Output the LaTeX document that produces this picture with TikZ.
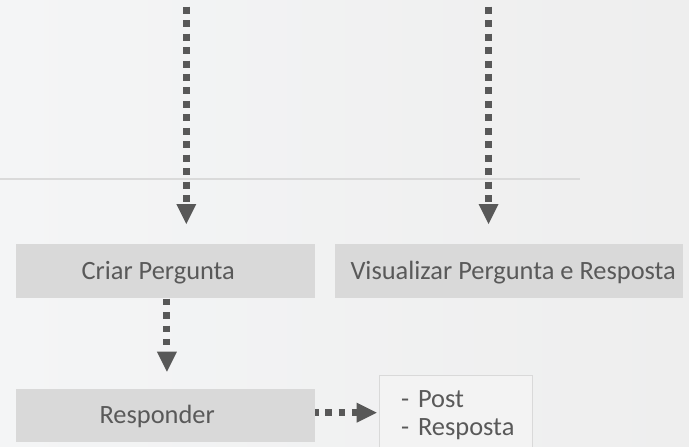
\documentclass[tikz,border=0pt]{standalone}
\usepackage{fontspec}
\setmainfont{Carlito}
\usetikzlibrary{arrows.meta}
\definecolor{bgL}{HTML}{F4F5F6}
\definecolor{bgR}{HTML}{EEEEEE}
\definecolor{boxc}{HTML}{D9D9D9}
\definecolor{txt}{HTML}{595959}
\definecolor{arr}{HTML}{585858}
\definecolor{sepc}{HTML}{DADADA}
\definecolor{postfill}{HTML}{F3F3F3}
\begin{document}
\begin{tikzpicture}[x=1pt,y=-1pt,
  box/.style={fill=boxc, inner sep=0pt, anchor=north west, text=txt,
    font=\fontsize{26.4}{28.3}\selectfont, text height=16.7pt, text depth=0pt},
  postbox/.style={fill=postfill, draw=boxc, line width=1pt, anchor=north west,
    inner xsep=21.5pt, inner ysep=15pt, text width=109.5pt, align=left,
    text=txt, font=\fontsize{26.4}{28.3}\selectfont},
  flow/.style={draw=arr, line width=7pt, dash pattern=on 7pt off 6.45pt,
    -{Triangle[width=20pt,length=20pt,line width=0pt]}},
  sepline/.style={draw=sepc, line width=1.5pt}
]
\useasboundingbox (0,0) rectangle (689,447);
\shade[left color=bgL, right color=bgR] (0,0) rectangle (689,447);
\draw[sepline] (0,179) -- (580,179);

\node[box, minimum width=299pt, minimum height=53.7pt] (criar) at (16,244) {Criar Pergunta\kern15pt};
\node[box, minimum width=348pt, minimum height=54pt] (vis) at (335,244) {\kern8pt Visualizar Pergunta e Resposta};
\node[box, minimum width=299pt, minimum height=53.4pt] (resp) at (16,388.3) {Responder\kern17pt};
\node[postbox, minimum width=152.5pt] (post) at (379.2,375) {\mbox{- Post}\\\mbox{- Resposta}};

\coordinate (t1) at (186.3,-6.75);
\coordinate (t2) at (488.6,-6.75);
\draw[flow, shorten >=20pt] (t1) -- (t1 |- criar.north);
\draw[flow, shorten >=20pt] (t2) -- (t2 |- vis.north);
\draw[flow, dash pattern=on 6.5pt off 6.9pt, dash phase=12.8pt, shorten >=16.6pt]
  ([xshift=1.2pt]criar.south) -- ([xshift=1.2pt]resp.north);
\draw[flow, dash pattern=on 6.7pt off 6.6pt, dash phase=3.4pt, shorten >=2.5pt]
  ([yshift=2.5pt]resp.east) -- ([yshift=2.5pt]resp.east -| post.west);
\end{tikzpicture}
\end{document}
